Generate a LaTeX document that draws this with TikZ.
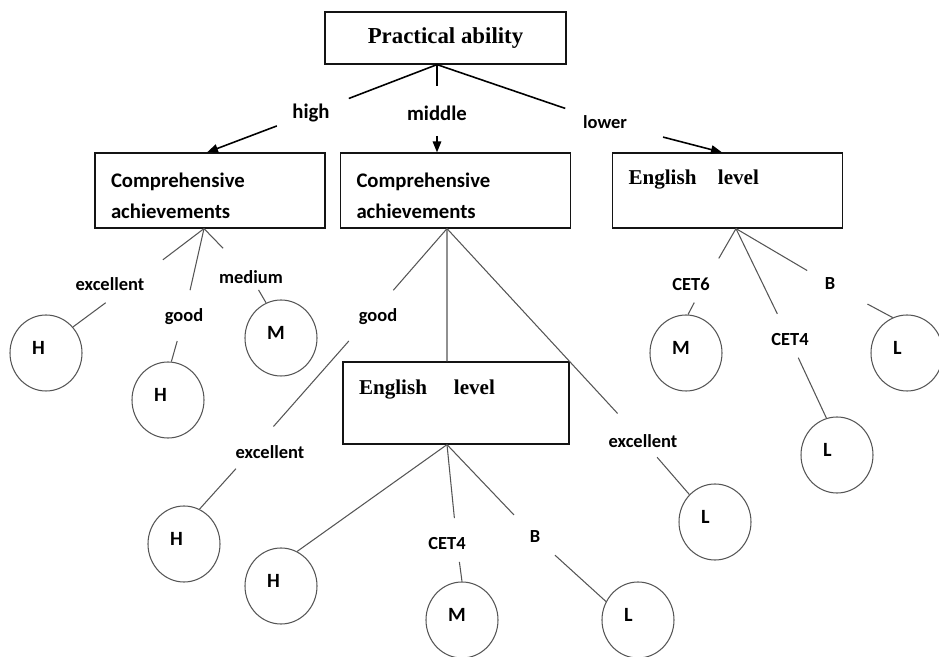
\documentclass[tikz,border=0pt]{standalone}
\usepackage{fontspec}
\setmainfont{Carlito}
\newfontfamily\headfont{Liberation Serif}
\usetikzlibrary{arrows.meta, shapes.geometric}
\definecolor{cLine}{RGB}{85,85,85}
\definecolor{cBox}{RGB}{20,20,20}

\begin{document}
\begin{tikzpicture}[
        rootbox/.style={rectangle, draw=cBox, line width=0.7pt, minimum width=4.82cm,
        minimum height=1.04cm, font=\headfont\bfseries\fontsize{13}{15}\selectfont},
        box/.style={rectangle, draw=cBox, line width=0.7pt, inner xsep=0.32cm,
        text width=3.96cm, align=left},
        compbox/.style={box, minimum height=1.5cm, text height=0.49cm,
        font=\bfseries\fontsize{11.8}{17.6}\selectfont},
        engbox/.style={box, inner ysep=0pt, font=\headfont\bfseries\fontsize{12}{14}\selectfont},
        grade/.style={ellipse, draw=cLine, line width=0.6pt, minimum width=1.44cm,
        minimum height=1.52cm, inner sep=0pt, text width=0.56cm, align=left,
        text depth=0.2cm, font=\bfseries\fontsize{11.5}{13}\selectfont},
        lbl/.style={inner sep=0pt, font=\bfseries\fontsize{10.5}{12}\selectfont},
        biglbl/.style={inner sep=0pt, font=\bfseries\fontsize{11.8}{14}\selectfont},
        stem/.style={line width=0.9pt},
        arrow/.style={-{Triangle[length=0.22cm, width=0.17cm]}, line width=0.9pt},
        link/.style={cLine, line width=0.6pt}
    ]

        \useasboundingbox (0,0) rectangle (18.78,-13.14);

        \node[rootbox] (root) at (8.91,-0.76) {Practical ability};

        \node[compbox] (comp1) at (4.20,-3.81) {Comprehensive\\achievements};
        \node[compbox] (comp2) at (9.11,-3.81) {Comprehensive\\achievements};
        \node[engbox, text height=0.64cm, text depth=0.86cm] (eng1) at (14.55,-3.81) {English\hspace{0.43cm}level};

        % --- first level ---
        \node[biglbl] (high)   at (6.22,-2.26)  {high};
        \node[biglbl] (middle) at (8.74,-2.26)  {middle};
        \node[lbl]    (lower)  at (12.10,-2.44) {lower};

        \draw[stem, shorten >=0.81cm] ([xshift=-0.17cm]root.south) -- (high.center);
        \draw[arrow, shorten <=0.73cm] (high.center) -- ([xshift=-0.06cm]comp1.north);
        \draw[stem, shorten >=0.54cm] ([xshift=-0.17cm]root.south) -- (middle.center);
        \draw[arrow, shorten <=0.46cm] (middle.center) -- ([xshift=-0.37cm]comp2.north);
        \draw[stem, shorten >=0.84cm] ([xshift=-0.17cm]root.south) -- (lower.center);
        \draw[arrow, shorten <=1.20cm] (lower.center) -- ([xshift=-0.11cm]eng1.north);

        % --- high ---
        \node[lbl] (exc1)  at (2.20,-5.68) {excellent};
        \node[lbl] (good1) at (3.68,-6.34) {good};
        \node[lbl] (med1)  at (5.02,-5.54) {medium};
        \node[grade] (h1) at (0.92,-7.06) {H};
        \node[grade] (h2) at (3.36,-8.00) {H};
        \node[grade] (m1) at (5.62,-6.76) {M};

        \draw[link, shorten >=0.80cm] ([xshift=-0.12cm]comp1.south) -- ([xshift=0.42cm]exc1.center);
        \draw[link, shorten <=0.63cm] ([xshift=0.42cm]exc1.center) -- (h1.44);
        \draw[link, shorten >=0.55cm] ([xshift=-0.12cm]comp1.south) -- (good1.center);
        \draw[link, shorten <=0.50cm] (good1.center) -- (h2.85);
        \draw[link, shorten >=0.80cm] ([xshift=-0.12cm]comp1.south) -- (med1.center);
        \draw[link, shorten <=0.30cm] (med1.center) -- (m1.113);

        % --- middle ---
        \node[engbox, text width=3.88cm, text height=0.66cm, text depth=0.98cm] (eng2) at (9.12,-8.06) {English\hspace{0.54cm}level};
        \node[lbl] (good2) at (7.56,-6.34)  {good};
        \node[lbl] (exc2)  at (5.40,-9.04)  {excellent};
        \node[lbl] (exc3)  at (12.86,-8.82) {excellent};
        \node[grade] (h3) at (3.68,-10.88)  {H};
        \node[grade] (l2) at (14.30,-10.44) {L};

        \draw[link, shorten >=0.71cm] ([xshift=-0.17cm]comp2.south) -- ([xshift=-0.16cm]good2.center);
        \draw[link, shorten <=0.64cm, shorten >=0.68cm] ([xshift=-0.16cm]good2.center) -- ([xshift=-0.38cm]exc2.center);
        \draw[link, shorten <=0.45cm] ([xshift=-0.38cm]exc2.center) -- (h3.66);
        \draw[link] ([xshift=-0.17cm]comp2.south) -- ([xshift=-0.18cm]eng2.north);
        \draw[link, shorten >=0.75cm] ([xshift=-0.17cm]comp2.south) -- (exc3.center);
        \draw[link, shorten <=0.43cm] (exc3.center) -- (l2.133);

        % under the inner English level box
        \node[lbl] (cet4b) at (8.94,-10.88) {CET4};
        \node[lbl] (b2)    at (10.70,-10.74) {B};
        \node[grade] (h4) at (5.62,-11.72)  {H};
        \node[grade] (m2) at (9.24,-12.40)  {M};
        \node[grade] (l1) at (12.76,-12.40) {L};

        \draw[link] ([xshift=-0.18cm]eng2.south) -- (h4.65);
        \draw[link, shorten >=0.52cm] ([xshift=-0.18cm]eng2.south) -- ([xshift=0.2cm]cet4b.center);
        \draw[link, shorten <=0.36cm] ([xshift=0.2cm]cet4b.center) -- (m2.north);
        \draw[link, shorten >=0.61cm] ([xshift=-0.18cm]eng2.south) -- (b2.center);
        \draw[link, shorten <=0.54cm] (b2.center) -- (l1.150);

        % --- lower ---
        \node[lbl] (cet6)  at (13.82,-5.68) {CET6};
        \node[lbl] (cet4a) at (15.80,-6.80) {CET4};
        \node[lbl] (b1)    at (16.60,-5.68) {B};
        \node[grade] (m3) at (13.72,-7.06) {M};
        \node[grade] (l3) at (16.74,-9.10) {L};
        \node[grade] (l4) at (18.14,-7.06) {L};

        \draw[link, shorten >=0.59cm] ([xshift=0.17cm]eng1.south) -- ([xshift=0.26cm]cet6.center);
        \draw[link, shorten <=0.42cm] ([xshift=0.26cm]cet6.center) -- (m3.87);
        \draw[link, shorten >=0.58cm] ([xshift=0.17cm]eng1.south) -- (cet4a.center);
        \draw[link, shorten <=0.39cm] (cet4a.center) -- (l3.106);
        \draw[link, shorten >=0.53cm] ([xshift=0.17cm]eng1.south) -- (b1.center);
        \draw[link, shorten <=0.85cm] (b1.center) -- (l4.112);

    \end{tikzpicture}
\end{document}
